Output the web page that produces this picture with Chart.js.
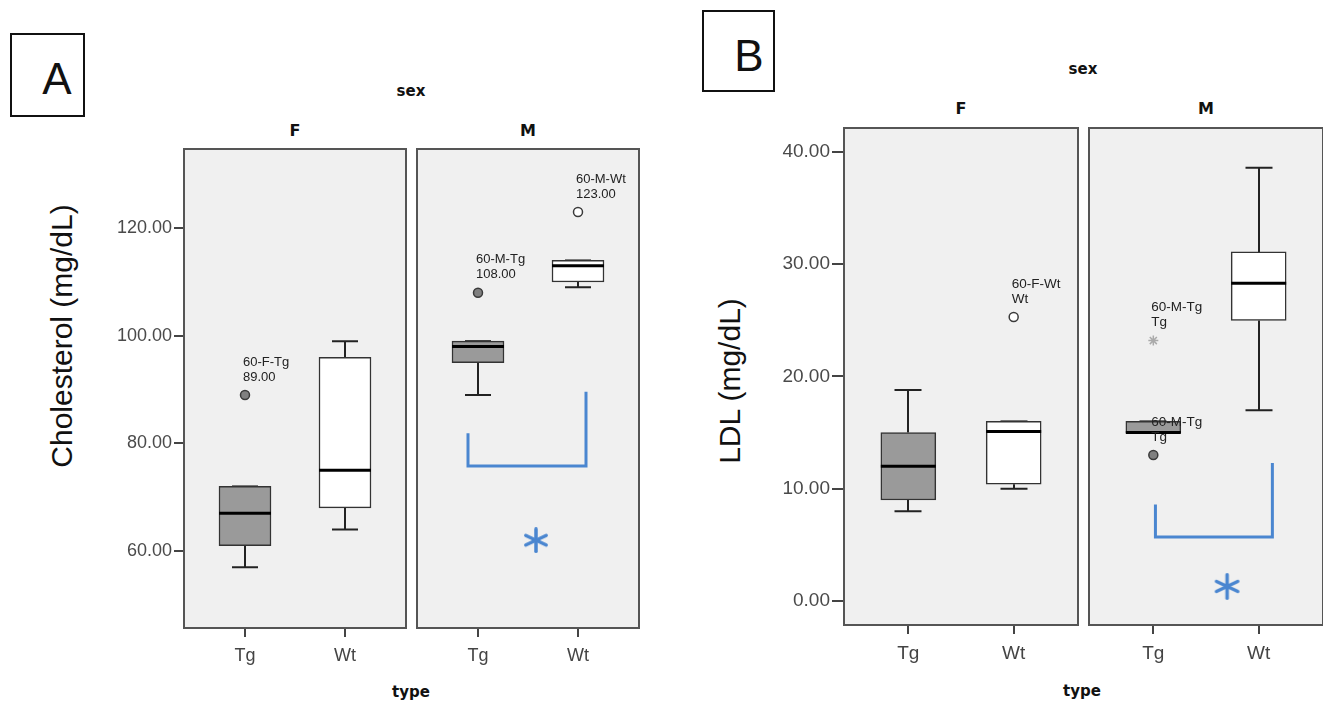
<!DOCTYPE html>
<html>
<head>
<meta charset="utf-8">
<script src="https://cdn.jsdelivr.net/npm/chart.js@4.4.1/dist/chart.umd.min.js"></script>
<style>
  body { margin: 0; width: 1323px; height: 703px; overflow: hidden; background: #fff; position: relative; font-family: "Liberation Sans", Arial, sans-serif; }
  canvas { position: absolute; }
  .t { position: absolute; transform: translate(-50%, -50%); white-space: nowrap; color: #111; }
  .b { font-family: "DejaVu Sans", sans-serif; font-weight: bold; font-size: 15px; }
  .f { font-size: 16px; }
  .ytitle { font-size: 30px; color: #111; transform: translate(-50%, -50%) rotate(-90deg); }
  .letter { position: absolute; border: 2.5px solid #111; box-sizing: border-box; }
  .letter span { position: absolute; transform: translate(-50%, -50%); font-size: 44px; color: #111; }
</style>
</head>
<body>

<div class="letter" style="left:10px;top:33px;width:75px;height:84px"><span style="left:45px;top:44px">A</span></div>
<div class="letter" style="left:702px;top:10px;width:73px;height:82px"><span style="left:45px;top:44px">B</span></div>

<div class="t b" style="left:411px;top:91px">sex</div>
<div class="t b f" style="left:295px;top:130px">F</div>
<div class="t b f" style="left:528px;top:130px">M</div>
<div class="t b" style="left:411px;top:692px">type</div>
<div class="t ytitle" style="left:62px;top:336px">Cholesterol (mg/dL)</div>

<div class="t b" style="left:1083px;top:69px">sex</div>
<div class="t b f" style="left:961px;top:108px">F</div>
<div class="t b f" style="left:1206px;top:108px">M</div>
<div class="t b" style="left:1082px;top:691px">type</div>
<div class="t ytitle" style="left:730px;top:381px">LDL (mg/dL)</div>

<canvas id="aF"></canvas>
<canvas id="aM"></canvas>
<canvas id="bF"></canvas>
<canvas id="bM"></canvas>

<script>
const typeLabels = ['Tg', 'Wt'];

// groups in order: F-Tg, F-Wt, M-Tg, M-Wt
// A: cholesterol
const cholLow = [57, 64, 89, 109];
const cholQ1 = [61, 68, 95, 110];
const cholMed = [67, 75, 98, 113];
const cholQ3 = [72, 96, 99, 114];
const cholHigh = [72, 99, 99, 114];
const cholTicks = [60, 80, 100, 120];
const cholOutGroup = [0, 2, 3];
const cholOutVal = [89, 108, 123];
const cholOutName = ['60-F-Tg', '60-M-Tg', '60-M-Wt'];
const cholOutText = ['89.00', '108.00', '123.00'];
const cholOutKind = ['circle', 'circle', 'circle'];
const cholSigX = [-0.1, -0.1, 1.08, 1.08];
const cholSigY = [81.9, 75.8, 75.8, 89.6];
const cholStar = [0.58, 62];

// B: LDL
const ldlLow = [8, 10, 15, 17];
const ldlQ1 = [9, 10.4, 15, 25];
const ldlMed = [12, 15.1, 15, 28.3];
const ldlQ3 = [15, 16, 16, 31.1];
const ldlHigh = [18.8, 16, 16, 38.6];
const ldlTicks = [0, 10, 20, 30, 40];
const ldlOutGroup = [1, 2, 2];
const ldlOutVal = [25.3, 23.2, 13];
const ldlOutName = ['60-F-Wt', '60-M-Tg', '60-M-Tg'];
const ldlOutText = ['Wt', 'Tg', 'Tg'];
const ldlOutKind = ['circle', 'star', 'circle'];
const ldlSigX = [0.02, 0.02, 1.13, 1.13];
const ldlSigY = [8.6, 5.7, 5.7, 12.3];
const ldlStar = [0.70, 1.3];

const boxColors = ['#9a9a9a', '#ffffff'];
const sigBlue = '#4a86d0';

// blue significance asterisk as a point image
function asterisk(size, color, lw) {
  const c = document.createElement('canvas');
  c.width = c.height = size;
  const g = c.getContext('2d');
  g.strokeStyle = color; g.lineWidth = lw; g.lineCap = 'round';
  g.translate(size / 2, size / 2);
  const r = size / 2 - lw / 2;
  for (const a of [90, 25, 155]) {
    const t = a * Math.PI / 180;
    g.beginPath();
    g.moveTo(-r * Math.cos(t), -r * Math.sin(t));
    g.lineTo(r * Math.cos(t), r * Math.sin(t));
    g.stroke();
  }
  return c;
}

const panelA = {
  low: cholLow, q1: cholQ1, med: cholMed, q3: cholQ3, high: cholHigh, ticks: cholTicks,
  outGroup: cholOutGroup, outVal: cholOutVal, outName: cholOutName, outText: cholOutText, outKind: cholOutKind,
  sigX: cholSigX, sigY: cholSigY, star: cholStar,
  yMin: 45.5, yMax: 134.9, barW: 52, capW: 26, tickFont: 18, labelFont: 13, yTickLen: 9,
  axisW: 80, xAxisH: 45, top: 148, h: 481, w: 224, lefts: [183, 416], starSize: 26
};
const panelB = {
  low: ldlLow, q1: ldlQ1, med: ldlMed, q3: ldlQ3, high: ldlHigh, ticks: ldlTicks,
  outGroup: ldlOutGroup, outVal: ldlOutVal, outName: ldlOutName, outText: ldlOutText, outKind: ldlOutKind,
  sigX: ldlSigX, sigY: ldlSigY, star: ldlStar,
  yMin: -2.23, yMax: 42.23, barW: 55, capW: 27, tickFont: 19, labelFont: 13.5, yTickLen: 11,
  axisW: 80, xAxisH: 45, top: 127, h: 499, w: 236, lefts: [843, 1088], starSize: 27
};

function makeFacet(id, P, facet) {
  const cv = document.getElementById(id);
  const showY = facet === 0;
  const extra = showY ? P.axisW : 0;
  cv.width = P.w + extra;
  cv.height = P.h + P.xAxisH;
  cv.style.left = (P.lefts[facet] - extra) + 'px';
  cv.style.top = P.top + 'px';

  const g0 = facet * 2;
  const outIdx = P.outGroup.map((g, i) => i).filter(i => Math.floor(P.outGroup[i] / 2) === facet);

  const datasets = [{
    type: 'bar',
    data: [0, 1].map(i => ({ x: i, y: [P.q1[g0 + i], P.q3[g0 + i]] })),
    backgroundColor: boxColors,
    borderColor: '#333',
    borderWidth: 1.5,
    borderSkipped: false,
    barThickness: P.barW,
    order: 3
  }, {
    type: 'line',
    showLine: false,
    data: outIdx.map(i => ({ x: P.outGroup[i] % 2, y: P.outVal[i] })),
    pointStyle: outIdx.map(i => P.outKind[i] === 'star' ? 'star' : 'circle'),
    pointRadius: outIdx.map(i => P.outKind[i] === 'star' ? 5 : 4.5),
    pointBackgroundColor: outIdx.map(i => P.outGroup[i] % 2 === 0 ? '#808080' : '#ffffff'),
    pointBorderColor: outIdx.map(i => P.outKind[i] === 'star' ? '#aaaaaa' : '#3a3a3a'),
    pointBorderWidth: 1.5,
    order: 2
  }];

  if (facet === 1) {
    datasets.push({
      type: 'line',
      data: P.sigX.map((x, i) => ({ x: x, y: P.sigY[i] })),
      borderColor: sigBlue,
      borderWidth: 3,
      pointRadius: 0,
      tension: 0,
      fill: false,
      order: 1
    }, {
      type: 'line',
      showLine: false,
      data: [{ x: P.star[0], y: P.star[1] }],
      pointStyle: asterisk(P.starSize, sigBlue, 3.5),
      pointRadius: P.starSize / 2,
      order: 1
    });
  }

  const parts = {
    id: 'boxParts',
    beforeDraw(chart) {
      const { ctx, chartArea: a } = chart;
      ctx.save();
      ctx.fillStyle = '#f0f0f0';
      ctx.fillRect(a.left, a.top, a.right - a.left, a.bottom - a.top);
      ctx.restore();
    },
    beforeDatasetsDraw(chart) {
      const { ctx, scales: { x, y } } = chart;
      ctx.save();
      ctx.strokeStyle = '#222';
      ctx.lineWidth = 2;
      [0, 1].forEach(i => {
        const g = g0 + i;
        const px = Math.round(x.getPixelForValue(i));
        const segs = [[P.q3[g], P.high[g]], [P.q1[g], P.low[g]]];
        segs.forEach(([from, to]) => {
          const y1 = y.getPixelForValue(from), y2 = y.getPixelForValue(to);
          ctx.beginPath();
          ctx.moveTo(px, y1); ctx.lineTo(px, y2);
          ctx.moveTo(px - P.capW / 2, y2); ctx.lineTo(px + P.capW / 2, y2);
          ctx.stroke();
        });
      });
      ctx.restore();
    },
    afterDatasetsDraw(chart) {
      const { ctx, scales: { x, y } } = chart;
      ctx.save();
      ctx.strokeStyle = '#000';
      ctx.lineWidth = 3;
      [0, 1].forEach(i => {
        const g = g0 + i;
        const px = x.getPixelForValue(i);
        const py = y.getPixelForValue(P.med[g]);
        ctx.beginPath();
        ctx.moveTo(px - P.barW / 2, py); ctx.lineTo(px + P.barW / 2, py);
        ctx.stroke();
      });
      // outlier case labels
      ctx.fillStyle = '#222';
      ctx.font = P.labelFont + 'px "Liberation Sans", Arial, sans-serif';
      ctx.textAlign = 'left';
      ctx.textBaseline = 'middle';
      outIdx.forEach(i => {
        const px = x.getPixelForValue(P.outGroup[i] % 2) - 2;
        const py = y.getPixelForValue(P.outVal[i]);
        ctx.fillText(P.outName[i], px, py - 33);
        ctx.fillText(P.outText[i], px, py - 18);
      });
      ctx.restore();
    },
    afterDraw(chart) {
      const { ctx, chartArea: a } = chart;
      ctx.save();
      ctx.strokeStyle = '#555';
      ctx.lineWidth = 2;
      ctx.strokeRect(a.left + 1, a.top + 1, a.right - a.left - 2, a.bottom - a.top - 2);
      ctx.restore();
    }
  };

  return new Chart(cv, {
    type: 'bar',
    data: { datasets: datasets },
    options: {
      responsive: false,
      animation: false,
      events: [],
      layout: { padding: 0, autoPadding: false },
      plugins: { legend: { display: false }, tooltip: { enabled: false } },
      scales: {
        x: {
          type: 'linear',
          min: -0.62,
          max: 1.62,
          offset: false,
          afterBuildTicks: s => { s.ticks = typeLabels.map((t, i) => ({ value: i })); },
          afterFit: s => { s.height = P.xAxisH; s.paddingLeft = 0; s.paddingRight = 0; },
          ticks: {
            callback: v => typeLabels[v],
            font: { size: P.tickFont, family: '"Liberation Sans", Arial, sans-serif' },
            color: '#444',
            padding: 8,
            autoSkip: false,
            maxRotation: 0
          },
          grid: { offset: false, drawOnChartArea: false, tickLength: 8, color: '#444', lineWidth: 2 },
          border: { display: false }
        },
        y: {
          type: 'linear',
          display: showY,
          min: P.yMin,
          max: P.yMax,
          afterBuildTicks: s => { s.ticks = P.ticks.map(v => ({ value: v })); },
          afterFit: s => {
            if (showY) s.width = P.axisW;
            s.paddingTop = 0;
            s.paddingBottom = 0;
          },
          ticks: {
            callback: v => Number(v).toFixed(2),
            font: { size: P.tickFont, family: '"Liberation Sans", Arial, sans-serif' },
            color: '#4a4a4a',
            padding: 2
          },
          grid: { drawOnChartArea: false, tickLength: P.yTickLen, color: '#444', lineWidth: 2 },
          border: { display: false }
        }
      }
    },
    plugins: [parts]
  });
}

makeFacet('aF', panelA, 0);
makeFacet('aM', panelA, 1);
makeFacet('bF', panelB, 0);
makeFacet('bM', panelB, 1);
</script>
</body>
</html>
